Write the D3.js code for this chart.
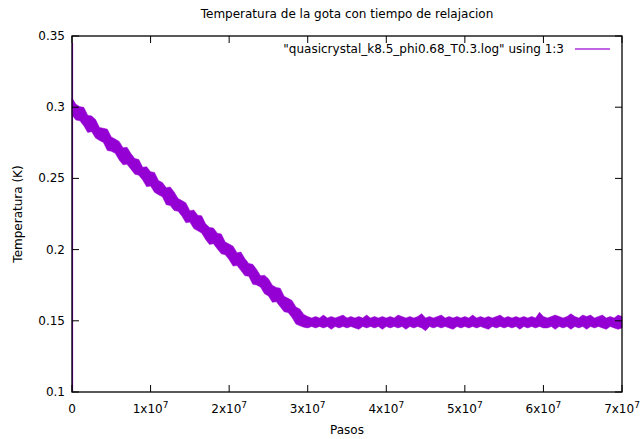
<!DOCTYPE html>
<html>
<head>
<meta charset="utf-8">
<script src="https://cdnjs.cloudflare.com/ajax/libs/d3/7.8.5/d3.min.js"></script>
<style>
  body { margin: 0; background: #fff; }
  text { font-family: "DejaVu Sans", sans-serif; font-size: 12px; fill: #000; }
</style>
</head>
<body>
<script>
// chart size
var width = 644;
var height = 439;
var margin = {top: 36, right: 22, bottom: 47, left: 72};

var title = "Temperatura de la gota con tiempo de relajacion";
var xLabel = "Pasos";
var yLabel = "Temperatura (K)";
var seriesName = "\"quasicrystal_k8.5_phi0.68_T0.3.log\" using 1:3";

// tick values
var xTicks = [0, 1e7, 2e7, 3e7, 4e7, 5e7, 6e7, 7e7];
var yTicks = [0.1, 0.15, 0.2, 0.25, 0.3, 0.35];
var yTickLabels = ["0.1", "0.15", "0.2", "0.25", "0.3", "0.35"];

// start transient at step 0 (vertical spike)
var startSteps = [0, 0, 0];
var startTemp = [0.1, 0.345, 0.305];

// steps (millions) and upper / lower envelope of the noisy trace
var steps = [
  0, 0.5, 1, 1.5, 2, 2.5, 3, 3.5, 4, 4.5, 5, 5.5, 6, 6.5, 7, 7.5, 8, 8.5, 9, 9.5,
  10, 10.5, 11, 11.5, 12, 12.5, 13, 13.5, 14, 14.5, 15, 15.5, 16, 16.5, 17, 17.5, 18, 18.5, 19, 19.5,
  20, 20.5, 21, 21.5, 22, 22.5, 23, 23.5, 24, 24.5, 25, 25.5, 26, 26.5, 27, 27.5, 28, 28.5, 29, 29.5,
  30, 30.5, 31, 31.5, 32, 32.5, 33, 33.5, 34, 34.5, 35, 35.5, 36, 36.5, 37, 37.5, 38, 38.5, 39, 39.5,
  40, 40.5, 41, 41.5, 42, 42.5, 43, 43.5, 44, 44.5, 45, 45.5, 46, 46.5, 47, 47.5, 48, 48.5, 49, 49.5,
  50, 50.5, 51, 51.5, 52, 52.5, 53, 53.5, 54, 54.5, 55, 55.5, 56, 56.5, 57, 57.5, 58, 58.5, 59, 59.5,
  60, 60.5, 61, 61.5, 62, 62.5, 63, 63.5, 64, 64.5, 65, 65.5, 66, 66.5, 67, 67.5, 68, 68.5, 69, 69.5,
  70
];
var tempHigh = [
  0.3065, 0.3020, 0.3004, 0.2999, 0.2943, 0.2938, 0.2913, 0.2857, 0.2852, 0.2846,
  0.2791, 0.2776, 0.2760, 0.2715, 0.2719, 0.2674, 0.2639, 0.2633, 0.2578, 0.2582,
  0.2547, 0.2542, 0.2486, 0.2471, 0.2435, 0.2440, 0.2405, 0.2359, 0.2344, 0.2328,
  0.2273, 0.2278, 0.2242, 0.2237, 0.2181, 0.2156, 0.2151, 0.2115, 0.2110, 0.2054,
  0.2039, 0.2024, 0.1978, 0.1983, 0.1937, 0.1902, 0.1897, 0.1861, 0.1816, 0.1820,
  0.1795, 0.1750, 0.1734, 0.1729, 0.1673, 0.1658, 0.1643, 0.1597, 0.1582, 0.1545,
  0.153,
  0.152, 0.153, 0.152, 0.154, 0.152, 0.153, 0.152, 0.153, 0.154, 0.152,
  0.153, 0.152, 0.153, 0.152, 0.154, 0.152, 0.153, 0.152, 0.153, 0.152,
  0.153, 0.152, 0.154, 0.153, 0.152, 0.153, 0.152, 0.153, 0.155, 0.152,
  0.153, 0.152, 0.153, 0.154, 0.152, 0.153, 0.152, 0.153, 0.152, 0.153,
  0.152, 0.154, 0.152, 0.153, 0.152, 0.153, 0.152, 0.153, 0.154, 0.152,
  0.153, 0.152, 0.153, 0.152, 0.153, 0.152, 0.153, 0.152, 0.156, 0.153,
  0.152, 0.153, 0.154, 0.153, 0.152, 0.153, 0.155, 0.153, 0.152, 0.154,
  0.153, 0.154, 0.152, 0.153, 0.154, 0.152, 0.153, 0.152, 0.154, 0.153
];
var tempLow = [
  0.2945, 0.2910, 0.2904, 0.2869, 0.2823, 0.2828, 0.2783, 0.2767, 0.2752, 0.2696,
  0.2691, 0.2676, 0.2630, 0.2595, 0.2599, 0.2564, 0.2529, 0.2523, 0.2488, 0.2442,
  0.2447, 0.2402, 0.2386, 0.2371, 0.2315, 0.2310, 0.2275, 0.2269, 0.2234, 0.2188,
  0.2193, 0.2148, 0.2132, 0.2117, 0.2071, 0.2036, 0.2041, 0.2005, 0.1970, 0.1964,
  0.1929, 0.1884, 0.1888, 0.1853, 0.1817, 0.1812, 0.1757, 0.1751, 0.1736, 0.1690,
  0.1675, 0.1630, 0.1634, 0.1599, 0.1563, 0.1558, 0.1523, 0.1477, 0.1465, 0.1455,
  0.145,
  0.146, 0.145, 0.146, 0.145, 0.146, 0.144, 0.146, 0.145, 0.146, 0.145,
  0.146, 0.145, 0.144, 0.146, 0.145, 0.146, 0.145, 0.146, 0.144, 0.146,
  0.145, 0.146, 0.145, 0.146, 0.144, 0.146, 0.145, 0.146, 0.145, 0.143,
  0.146, 0.145, 0.146, 0.145, 0.146, 0.145, 0.144, 0.146, 0.145, 0.146,
  0.145, 0.146, 0.145, 0.146, 0.145, 0.144, 0.146, 0.145, 0.146, 0.145,
  0.146, 0.145, 0.146, 0.144, 0.146, 0.145, 0.146, 0.145, 0.146, 0.145,
  0.145, 0.146, 0.144, 0.146, 0.145, 0.146, 0.144, 0.146, 0.145, 0.146,
  0.144, 0.146, 0.145, 0.146, 0.145, 0.144, 0.146, 0.145, 0.144, 0.145
];

var lineColor = "#9400d3";

var svg = d3.select("body").append("svg")
    .attr("width", width)
    .attr("height", height);

var xScale = d3.scaleLinear()
    .domain([0, 7e7])
    .range([margin.left, width - margin.right]);

var yScale = d3.scaleLinear()
    .domain([0.1, 0.35])
    .range([height - margin.bottom, margin.top]);

// data
var points = steps.map(function(s, i){
    return {x: s * 1e6, hi: tempHigh[i], lo: tempLow[i]};
});

var area = d3.area()
    .x(function(d){ return xScale(d.x); })
    .y0(function(d){ return yScale(d.lo); })
    .y1(function(d){ return yScale(d.hi); });

svg.append("path")
    .datum(points)
    .attr("d", area)
    .attr("fill", lineColor)
    .attr("stroke", lineColor)
    .attr("stroke-width", 0.5);

svg.append("path")
    .datum(startSteps.map(function(s, i){ return [s, startTemp[i]]; }))
    .attr("d", d3.line()
        .x(function(d){ return xScale(d[0]) + 0.5; })
        .y(function(d){ return yScale(d[1]); }))
    .attr("fill", "none")
    .attr("stroke", lineColor)
    .attr("stroke-width", 1.2);

// frame
var x0 = xScale(0), x1 = xScale(7e7), y0 = yScale(0.1), y1 = yScale(0.35);
var tickLen = 7;

var frame = svg.append("g");
frame.append("rect")
    .attr("x", x0).attr("y", y1)
    .attr("width", x1 - x0).attr("height", y0 - y1)
    .attr("fill", "none")
    .attr("stroke", "#000")
    .attr("stroke-width", 1.3);

// x ticks (bottom and mirrored at top)
xTicks.forEach(function(t){
    var x = xScale(t);
    frame.append("line").attr("x1", x).attr("x2", x)
        .attr("y1", y0).attr("y2", y0 - tickLen)
        .attr("stroke", "#000");
    frame.append("line").attr("x1", x).attr("x2", x)
        .attr("y1", y1).attr("y2", y1 + tickLen)
        .attr("stroke", "#000");
    var label = svg.append("text")
        .attr("x", x)
        .attr("y", y0 + 21)
        .attr("text-anchor", "middle");
    if (t === 0) {
        label.text("0");
    } else {
        label.append("tspan").text((t / 1e7) + "x10");
        label.append("tspan").attr("dy", -5).style("font-size", "9px").text("7");
    }
});

// y ticks (left and mirrored at right)
yTicks.forEach(function(t, i){
    var y = yScale(t);
    frame.append("line").attr("x1", x0).attr("x2", x0 + tickLen)
        .attr("y1", y).attr("y2", y)
        .attr("stroke", "#000");
    frame.append("line").attr("x1", x1).attr("x2", x1 - tickLen)
        .attr("y1", y).attr("y2", y)
        .attr("stroke", "#000");
    svg.append("text")
        .attr("x", x0 - 7)
        .attr("y", y + 4)
        .attr("text-anchor", "end")
        .text(yTickLabels[i]);
});

// titles
svg.append("text")
    .attr("x", (x0 + x1) / 2)
    .attr("y", 18)
    .attr("text-anchor", "middle")
    .text(title);

svg.append("text")
    .attr("x", (x0 + x1) / 2)
    .attr("y", 434)
    .attr("text-anchor", "middle")
    .text(xLabel);

svg.append("text")
    .attr("transform", "translate(22," + ((y0 + y1) / 2) + ") rotate(-90)")
    .attr("text-anchor", "middle")
    .text(yLabel);

// legend
svg.append("text")
    .attr("x", 564)
    .attr("y", 53)
    .attr("text-anchor", "end")
    .text(seriesName);

svg.append("line")
    .attr("x1", 575).attr("x2", 610)
    .attr("y1", 49).attr("y2", 49)
    .attr("stroke", lineColor)
    .attr("stroke-opacity", 0.6)
    .attr("stroke-width", 2);
</script>
</body>
</html>
